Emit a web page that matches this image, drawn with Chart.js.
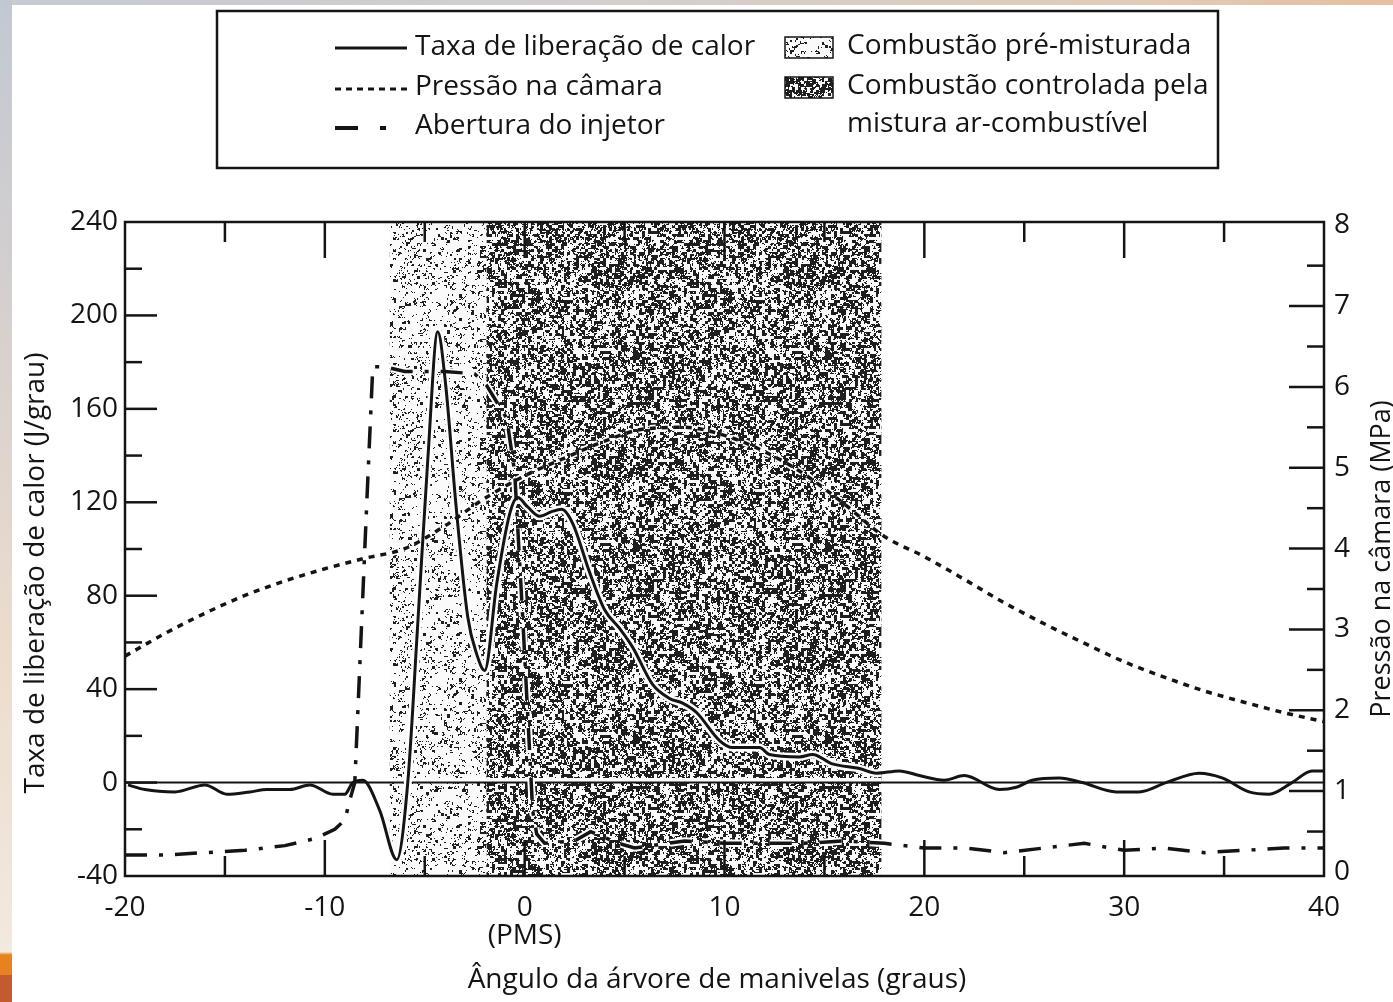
<!DOCTYPE html>
<html lang="pt">
<head>
<meta charset="utf-8">
<title>Taxa de liberação de calor e pressão na câmara</title>
<script src="https://cdn.jsdelivr.net/npm/chart.js@4.4.1/dist/chart.umd.min.js"></script>
<style>
  html, body { margin: 0; padding: 0; width: 1393px; height: 1002px; overflow: hidden; }
  body { position: relative; background: linear-gradient(to right, #c6cad2, #d3cfcd 45%, #e2c9b4 85%, #e6bf9f); }
  #strip { position: absolute; left: 0; top: 0; width: 12px; height: 1002px;
    background: linear-gradient(to bottom, #c2c8d2 0%, #d8d1ce 35%, #ecdccd 65%, #f2e9df 95%, #e8821e 95.3%, #e8821e 97.3%, #c45a30 97.3%); }
  #sheet { position: absolute; left: 12px; top: 5px; right: 0; bottom: 0; background: #fff; }
  #wrap { position: absolute; left: 0; top: 0; width: 1393px; height: 1002px; }
</style>
</head>
<body>
<div id="strip"></div>
<div id="sheet"></div>
<div id="wrap"><canvas id="chart"></canvas></div>
<script>
"use strict";

// Taxa de liberação de calor (J/grau) vs ângulo (graus)
const heatAngle = [-19.85, -19, -17.5, -16, -14.9, -13.75, -12.9, -11.75, -10.75, -9.6, -9, -8.6, -8.1, -7.25, -6.4,
  -5.85, -5.35, -4.85, -4.35, -3.95, -3.45, -2.85, -2.4, -2, -1.4, -0.75, -0.35, 0.15, 0.75, 1.35, 1.85, 2.4,
  3.25, 4, 4.75, 5.4, 6.4, 7.25, 7.9, 8.6, 9.75, 10.4, 11.75, 12.25, 13.75, 14.4, 15.4, 16.75, 17.6, 18.75,
  19.75, 21, 22, 23.75, 24.6, 25.4, 26.75, 27.9, 29.6, 30.75, 32.1, 33.75, 34.9, 36.25, 37.25, 38.4, 39.4, 40];
const heatRate = [-1, -3, -4, -1, -5, -4, -3, -3, -1, -5, -5, 0, 1, -12, -33,
  0, 68, 138, 193, 170, 120, 71, 55, 48, 85, 115, 122, 118, 114, 116, 117, 111,
  90, 74, 66, 58, 42, 36, 34, 30, 18, 15, 15, 12, 11, 12, 8, 6, 4, 5,
  3, 1, 3, -3, -2, 1, 2, 0, -4, -4, 0, 4, 2, -4, -5, 0, 5, 5];

// Pressão na câmara (MPa)
const pressAngle = [-20, -18, -16, -14, -12, -10, -8, -6, -4, -2, 0, 2, 4, 6, 8, 10, 12, 14, 16, 18,
  20, 22, 24, 26, 28, 30, 32, 34, 36, 38, 40];
const pressMPa = [2.67, 2.95, 3.2, 3.42, 3.6, 3.75, 3.88, 4.0, 4.28, 4.62, 4.9, 5.12, 5.33, 5.48, 5.5, 5.4, 5.2, 4.92, 4.55, 4.15,
  3.9, 3.62, 3.33, 3.07, 2.83, 2.6, 2.41, 2.24, 2.1, 1.97, 1.86];

// Abertura do injetor (escala do eixo esquerdo)
const injAngle = [-20, -18, -16, -14, -12, -10.5, -9.5, -9, -8.7, -8.5, -8.2, -7.9, -7.6, -7, -6, -4, -2.5, -1.9,
  -0.9, -0.5, -0.1, 0.4, 0.6, 1, 2.5, 3.3, 4.7, 5.5, 8, 10, 12, 14, 16, 18, 20, 22, 24, 26, 28, 30, 32, 34, 36, 38, 40];
const injLift = [-31, -31, -30, -29, -27, -24, -20, -16, -6, 0, 60, 120, 178, 178, 176, 176, 175, 170,
  156, 133, 71, -12, -22, -26, -25, -21, -26, -28, -25, -26, -26, -26, -25, -26, -28, -28, -30, -28, -26, -29, -28, -30, -29, -28, -28];

// faixas de combustão (graus)
const premixedRange = [-6.75, -1.9];
const controlledRange = [-1.9, 17.85];

const xTickValues = [-20, -10, 0, 10, 20, 30, 40];

const FONT = '"Open Sans", "Noto Sans", sans-serif';
const INK = '#141414';

function toPoints(xs, ys) {
  return xs.map((x, i) => ({ x: x, y: ys[i] }));
}

function hash(i, j) {
  let h = (i * 374761393 + j * 668265263) | 0;
  h = Math.imul(h ^ (h >>> 13), 1274126177);
  return ((h ^ (h >>> 16)) >>> 0) / 4294967296;
}

// textura pontilhada (determinística)
function speckle(ctx, density) {
  const size = 192;
  const c = document.createElement('canvas');
  c.width = c.height = size;
  const g = c.getContext('2d');
  const img = g.createImageData(size, size);
  for (let j = 0; j < size; j++) {
    for (let i = 0; i < size; i++) {
      const v = hash(Math.floor(i / 3), Math.floor(j / 3)) * 0.5 +
        hash((i >> 1) + 501, (j >> 1) + 77) * 0.3 + hash(i + 977, j + 131) * 0.2;
      const k = (j * size + i) * 4;
      const c0 = v < density ? 30 : 250;
      img.data[k] = img.data[k + 1] = img.data[k + 2] = c0;
      img.data[k + 3] = 255;
    }
  }
  g.putImageData(img, 0, 0);
  return ctx.createPattern(c, 'repeat');
}

function line(ctx, x1, y1, x2, y2) {
  ctx.beginPath();
  ctx.moveTo(x1, y1);
  ctx.lineTo(x2, y2);
  ctx.stroke();
}

const framePlugin = {
  id: 'frame',
  beforeDatasetsDraw(chart) {
    const { ctx, chartArea: a, scales } = chart;
    const x = scales.x, y = scales.y;
    ctx.save();
    ctx.fillStyle = speckle(ctx, 0.3);
    const p0 = x.getPixelForValue(premixedRange[0]), p1 = x.getPixelForValue(premixedRange[1]);
    ctx.fillRect(p0, a.top, p1 - p0, a.bottom - a.top);
    ctx.fillStyle = speckle(ctx, 0.5);
    const c0 = x.getPixelForValue(controlledRange[0]), c1 = x.getPixelForValue(controlledRange[1]);
    ctx.fillRect(c0, a.top, c1 - c0, a.bottom - a.top);

    // linha de zero
    const y0 = y.getPixelForValue(0);
    ctx.strokeStyle = '#fff';
    ctx.lineWidth = 4;
    line(ctx, p0, y0 - 2.5, c1, y0 - 2.5);
    ctx.strokeStyle = INK;
    ctx.lineWidth = 2;
    line(ctx, a.left, y0, a.right, y0);
    ctx.restore();
  },
  beforeDatasetDraw(chart, args) {
    const ctx = chart.ctx;
    ctx.save();
    if (chart.data.datasets[args.index].halo) {
      // halo branco apenas dentro das faixas sombreadas
      const x = chart.scales.x, a = chart.chartArea;
      const p0 = x.getPixelForValue(premixedRange[0]);
      const c1 = x.getPixelForValue(controlledRange[1]);
      ctx.beginPath();
      ctx.rect(p0, a.top, c1 - p0, a.bottom - a.top);
      ctx.clip();
    }
  },
  afterDatasetDraw(chart) {
    chart.ctx.restore();
  },
  afterDatasetsDraw(chart) {
    const { ctx, chartArea: a, scales } = chart;
    ctx.save();
    ctx.strokeStyle = INK;
    ctx.lineWidth = 2.5;
    ctx.strokeRect(a.left, a.top, a.right - a.left, a.bottom - a.top);

    // marcas internas do eixo x (topo e base)
    for (let v = scales.x.min + 5; v < scales.x.max; v += 5) {
      const px = scales.x.getPixelForValue(v);
      const len = v % 10 === 0 ? 36 : 20;
      line(ctx, px, a.top, px, a.top + len);
      line(ctx, px, a.bottom, px, a.bottom - len);
    }
    // eixo esquerdo
    for (let v = scales.y.min + 20; v < scales.y.max; v += 20) {
      const py = scales.y.getPixelForValue(v);
      line(ctx, a.left, py, a.left + (v % 40 === 0 ? 32 : 17), py);
    }
    // eixo direito
    for (let v = 0.5; v < 8; v += 0.5) {
      const py = scales.y1.getPixelForValue(v);
      line(ctx, a.right, py, a.right - (v % 1 === 0 ? 35 : 17), py);
    }
    ctx.restore();
  },
  afterDraw(chart) {
    const ctx = chart.ctx;
    ctx.save();
    ctx.fillStyle = INK;
    ctx.strokeStyle = INK;
    ctx.textBaseline = 'middle';

    // títulos dos eixos
    ctx.textAlign = 'center';
    ctx.save();
    ctx.translate(36, 573);
    ctx.rotate(-Math.PI / 2);
    ctx.font = '28px ' + FONT;
    ctx.fillText('Taxa de liberação de calor (J/grau)', 0, 0);
    ctx.restore();
    ctx.save();
    ctx.translate(1382, 559);
    ctx.rotate(-Math.PI / 2);
    ctx.font = '27px ' + FONT;
    ctx.fillText('Pressão na câmara (MPa)', 0, 0);
    ctx.restore();
    ctx.font = '28px ' + FONT;
    ctx.fillText('Ângulo da árvore de manivelas (graus)', 717, 980);

    // legenda
    ctx.lineWidth = 2.5;
    ctx.strokeRect(217, 11, 1001, 157);
    ctx.lineWidth = 3;
    line(ctx, 335, 48, 407, 48);
    ctx.setLineDash([6, 5]);
    line(ctx, 335, 89, 407, 89);
    ctx.setLineDash([]);
    ctx.lineWidth = 4;
    line(ctx, 335, 128, 358, 128);
    line(ctx, 380, 128, 386, 128);

    ctx.fillStyle = speckle(ctx, 0.3);
    ctx.fillRect(785, 37, 48, 21);
    ctx.fillStyle = speckle(ctx, 0.5);
    ctx.fillRect(785, 77, 48, 21);
    ctx.lineWidth = 1.5;
    ctx.strokeRect(785, 37, 48, 21);
    ctx.strokeRect(785, 77, 48, 21);

    ctx.fillStyle = INK;
    ctx.font = '28px ' + FONT;
    ctx.textAlign = 'left';
    ctx.fillText('Taxa de liberação de calor', 415, 47);
    ctx.fillText('Pressão na câmara', 415, 87);
    ctx.fillText('Abertura do injetor', 415, 126);
    ctx.fillText('Combustão pré-misturada', 847, 46);
    ctx.fillText('Combustão controlada pela', 847, 86);
    ctx.fillText('mistura ar-combustível', 847, 124);
    ctx.restore();
  }
};

const tickFont = { family: FONT, size: 28, lineHeight: 1.0 };

const heatData = toPoints(heatAngle, heatRate);
const pressData = toPoints(pressAngle, pressMPa);
const injData = toPoints(injAngle, injLift);

new Chart(document.getElementById('chart'), {
  type: 'line',
  data: {
    datasets: [
      {
        label: 'Taxa de liberação de calor',
        data: heatData,
        yAxisID: 'y',
        borderColor: INK,
        borderWidth: 3,
        pointRadius: 0,
        cubicInterpolationMode: 'monotone'
      },
      {
        label: 'Pressão na câmara',
        data: pressData,
        yAxisID: 'y1',
        borderColor: INK,
        borderWidth: 3.5,
        borderDash: [6, 6],
        pointRadius: 0,
        cubicInterpolationMode: 'monotone'
      },
      {
        label: 'Abertura do injetor',
        data: injData,
        yAxisID: 'y',
        borderColor: INK,
        borderWidth: 3.5,
        borderDash: [22, 12, 4, 12],
        pointRadius: 0,
        tension: 0
      },
      {
        label: 'halo calor',
        halo: true,
        data: heatData,
        yAxisID: 'y',
        borderColor: '#ffffff',
        borderWidth: 8,
        pointRadius: 0,
        cubicInterpolationMode: 'monotone'
      },
      {
        label: 'halo pressão',
        halo: true,
        data: pressData,
        yAxisID: 'y1',
        borderColor: '#ffffff',
        borderWidth: 7,
        borderDash: [6, 6],
        pointRadius: 0,
        cubicInterpolationMode: 'monotone'
      },
      {
        label: 'halo injetor',
        halo: true,
        data: injData,
        yAxisID: 'y',
        borderColor: '#ffffff',
        borderWidth: 7.5,
        borderDash: [22, 12, 4, 12],
        pointRadius: 0,
        tension: 0
      }
    ]
  },
  options: {
    responsive: true,
    maintainAspectRatio: false,
    animation: false,
    layout: { padding: { top: 222, left: 0, right: 0, bottom: 0 } },
    plugins: {
      legend: { display: false },
      tooltip: { enabled: false }
    },
    scales: {
      x: {
        type: 'linear',
        min: -20,
        max: 40,
        afterFit(s) { s.height = 126; },
        afterBuildTicks(s) { s.ticks = xTickValues.map(v => ({ value: v })); },
        grid: { display: false, drawTicks: false },
        border: { display: false },
        ticks: {
          padding: 18,
          color: INK,
          font: tickFont,
          maxRotation: 0,
          autoSkip: false,
          callback: v => (v === 0 ? ['0', '(PMS)'] : String(v))
        }
      },
      y: {
        position: 'left',
        min: -40,
        max: 240,
        afterFit(s) { s.width = 125; },
        grid: { display: false, drawTicks: false },
        border: { display: false },
        ticks: { stepSize: 40, padding: 7, color: INK, font: tickFont, includeBounds: false }
      },
      y1: {
        position: 'right',
        min: -0.05,
        max: 8.04,
        afterFit(s) { s.width = 69; },
        grid: { display: false, drawTicks: false },
        border: { display: false },
        ticks: { stepSize: 1, padding: 10, color: INK, font: tickFont, includeBounds: false }
      }
    }
  },
  plugins: [framePlugin]
});
</script>
</body>
</html>
